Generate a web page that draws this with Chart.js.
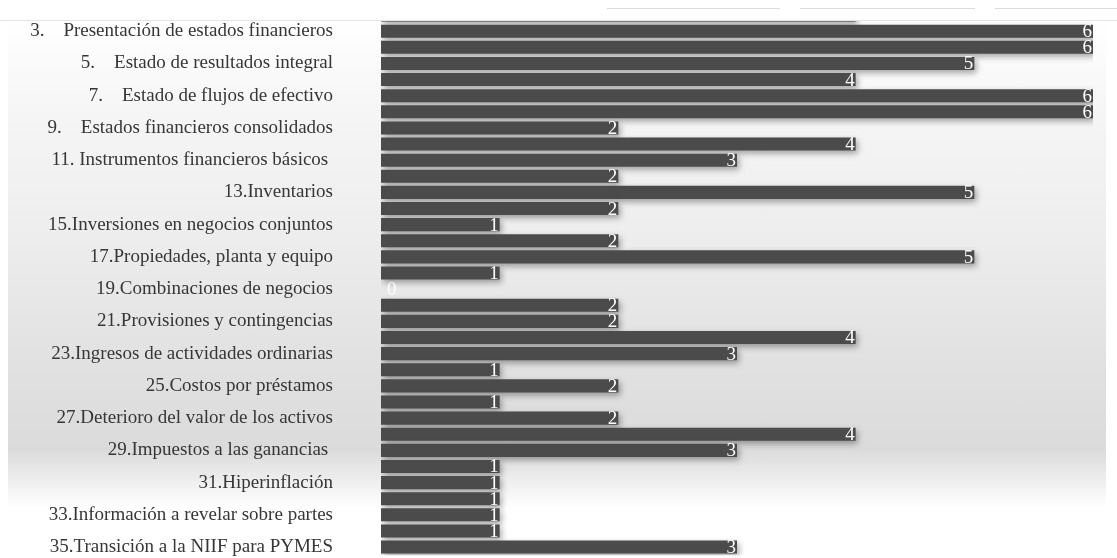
<!DOCTYPE html>
<html lang="es">
  <head>
    <meta charset="UTF-8" />
    <title>NIIF para PYMES</title>
    <script src="https://cdn.jsdelivr.net/npm/chart.js"></script>
    <style>
      html, body { margin: 0; padding: 0; background: #fff; }
      #wrap { position: relative; width: 1117px; height: 558px; overflow: hidden; }
      #panel {
        position: absolute; left: 8px; top: 20px; width: 1098px; height: 488px;
        background: linear-gradient(to bottom, #ffffff 0%, #f5f5f5 20%, #ededed 45%, #e2e2e2 68%, #dbdbdb 88%, #ffffff 100%);
      }
      #myChart { position: absolute; left: 0; top: 0; }
      #topband {
        position: absolute; left: 0; top: 0; width: 1117px; height: 20px; background: #fff;
        border-bottom: 1px solid #e4e4e4; z-index: 2;
      }
      .seg { position: absolute; top: 8px; height: 1px; background: #dcdcdc; }
    </style>
  </head>
  <body>
    <div id="wrap">
      <div id="panel"></div>
      <canvas id="myChart" width="1117" height="558"></canvas>
      <div id="topband">
        <div class="seg" style="left: 607px; width: 173px"></div>
        <div class="seg" style="left: 800px; width: 175px"></div>
        <div class="seg" style="left: 995px; width: 122px"></div>
      </div>
    </div>
    <script>
      // secciones 2..35 (solo se rotulan las impares)
      const categories = [
        "2. Conceptos y principios generales",
        "3.    Presentación de estados financieros",
        "4. Estado de situación financiera",
        "5.    Estado de resultados integral",
        "6. Estado de cambios en el patrimonio",
        "7.    Estado de flujos de efectivo",
        "8. Notas a los estados financieros",
        "9.    Estados financieros consolidados",
        "10. Políticas contables",
        "11. Instrumentos financieros básicos ",
        "12.Otros temas de instrumentos financieros",
        "13.Inventarios",
        "14.Inversiones en asociadas",
        "15.Inversiones en negocios conjuntos",
        "16.Propiedades de inversión",
        "17.Propiedades, planta y equipo",
        "18.Activos intangibles",
        "19.Combinaciones de negocios",
        "20.Arrendamientos",
        "21.Provisiones y contingencias",
        "22.Pasivos y patrimonio",
        "23.Ingresos de actividades ordinarias",
        "24.Subvenciones del gobierno",
        "25.Costos por préstamos",
        "26.Pagos basados en acciones",
        "27.Deterioro del valor de los activos",
        "28.Beneficios a los empleados",
        "29.Impuestos a las ganancias ",
        "30.Conversión de la moneda extranjera",
        "31.Hiperinflación",
        "32.Hechos ocurridos después del periodo",
        "33.Información a revelar sobre partes",
        "34.Actividades especializadas",
        "35.Transición a la NIIF para PYMES",
      ];
      const values = [4, 6, 6, 5, 4, 6, 6, 2, 4, 3, 2, 5, 2, 1, 2, 5, 1, 0, 2, 2, 4, 3, 1, 2, 1, 2, 4, 3, 1, 1, 1, 1, 1, 3];
      const xTicks = [0, 6];

      const barShadow = {
        id: "barShadow",
        beforeDatasetsDraw(chart) {
          const ctx = chart.ctx;
          ctx.save();
          ctx.shadowColor = "rgba(0,0,0,0.35)";
          ctx.shadowBlur = 6;
          ctx.shadowOffsetX = 2;
          ctx.shadowOffsetY = 3;
        },
        afterDatasetsDraw(chart) {
          chart.ctx.restore();
        },
      };

      const valueLabels = {
        id: "valueLabels",
        afterDatasetsDraw(chart) {
          const ctx = chart.ctx;
          const meta = chart.getDatasetMeta(0);
          ctx.save();
          ctx.font = "19px 'Liberation Serif', serif";
          ctx.textBaseline = "middle";
          meta.data.forEach((bar, i) => {
            const v = values[i];
            if (v === 0) {
              ctx.fillStyle = "rgba(255,255,255,0.9)";
              ctx.textAlign = "left";
              ctx.fillText(String(v), bar.base + 6, bar.y + 1);
            } else {
              ctx.fillStyle = "#ffffff";
              ctx.textAlign = "right";
              ctx.fillText(String(v), bar.x - 1, bar.y + 1);
            }
          });
          ctx.restore();
        },
      };

      const ctx = document.getElementById("myChart");
      const myChart = new Chart(ctx, {
        type: "bar",
        data: {
          labels: categories,
          datasets: [
            {
              data: values,
              backgroundColor: "#4b4b4b",
              borderWidth: 0,
              barPercentage: 0.81,
              categoryPercentage: 1,
            },
          ],
        },
        options: {
          indexAxis: "y",
          responsive: false,
          animation: false,
          layout: { padding: { top: 7, bottom: 0, right: 24, left: 0 } },
          plugins: { legend: { display: false }, tooltip: { enabled: false } },
          scales: {
            x: { display: false, min: xTicks[0], max: xTicks[1] },
            y: {
              grid: { display: false, drawTicks: true, tickLength: 48 },
              border: { display: false },
              afterFit: (scale) => { scale.width = 381; },
              ticks: {
                autoSkip: false,
                padding: 0,
                color: "#363636",
                font: { family: "'Liberation Serif', serif", size: 19, lineHeight: 0.3 },
                callback: (value, index) => (index % 2 === 1 ? categories[index] : ""),
              },
            },
          },
        },
        plugins: [barShadow, valueLabels],
      });
    </script>
  </body>
</html>
